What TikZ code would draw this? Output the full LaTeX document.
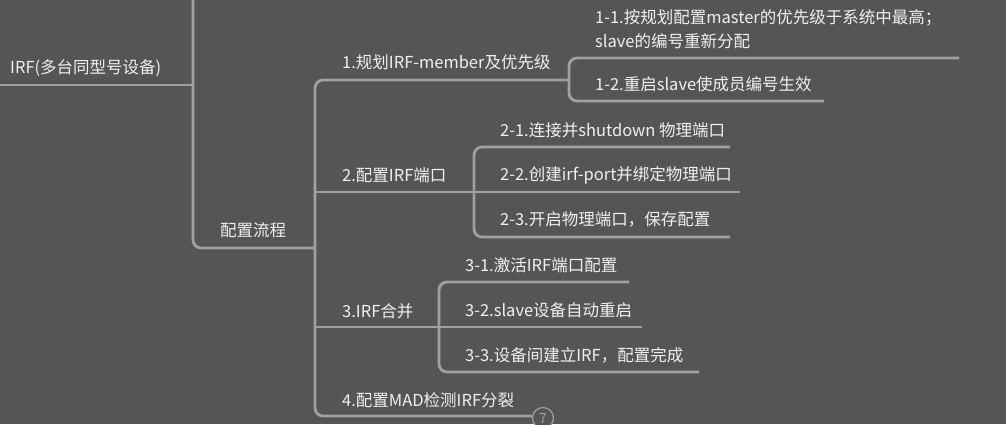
\documentclass[tikz,border=0pt]{standalone}
\usepackage{fontspec}
\setmainfont{Noto Sans CJK SC}
\definecolor{bg}{RGB}{85,86,83}
\definecolor{ln}{RGB}{160,161,158}
\definecolor{tx}{RGB}{240,240,238}
\begin{document}
\begin{tikzpicture}[x=1pt,y=-1pt,
  lbl/.style={anchor=west,inner sep=0pt,text=tx,font=\fontsize{16.5}{24}\selectfont},
  br/.style={draw=ln,line width=2.8pt,rounded corners=8pt}]
\fill[bg] (0,0) rectangle (1006,424);
\useasboundingbox (0,0) rectangle (1006,424);
% texts
\node[lbl] (root) at (10,68) {IRF(多台同型号设备)};
\node[lbl] (cfg) at (220,230) {配置流程};
\node[lbl] (s1) at (342,62) {1.规划IRF-member及优先级};
\node[lbl,align=left] (s11) at (595,29) {1-1.按规划配置master的优先级于系统中最高；\\slave的编号重新分配};
\node[lbl] (s12) at (595,84) {1-2.重启slave使成员编号生效};
\node[lbl] (s2) at (342,175) {2.配置IRF端口};
\node[lbl] (s21) at (500,130) {2-1.连接并shutdown 物理端口};
\node[lbl] (s22) at (500,175) {2-2.创建irf-port并绑定物理端口};
\node[lbl] (s23) at (500,219) {2-3.开启物理端口，保存配置};
\node[lbl] (s3) at (342,311) {3.IRF合并};
\node[lbl] (s31) at (465,265) {3-1.激活IRF端口配置};
\node[lbl] (s32) at (465,310) {3-2.slave设备自动重启};
\node[lbl] (s33) at (465,355) {3-3.设备间建立IRF，配置完成};
\node[lbl] (s4) at (342,400) {4.配置MAD检测IRF分裂};
% junction coordinates
\coordinate (rootL) at (0,85);
\coordinate (j0top) at (193,0);
\coordinate (j0) at (193,85);
\coordinate (cfgR) at (315,248);
\coordinate (s1R) at (569,80);
\coordinate (s1L) at (315,80);
\coordinate (s4L) at (315,416);
\coordinate (s4R) at (532,416);
\coordinate (s2R) at (474,192);
\coordinate (s3R) at (439,327);
% root and level 1
\draw[br] (rootL) -- (j0);
\draw[br] (j0top) -- (193,248) -- (cfgR);
% level 2 spine
\draw[br] (s1R) -- (s1L) -- (s4L) -- (s4R);
\draw[br] (315,192) -- (s2R);
\draw[br] (315,327) -- (s3R);
% sub branch 1
\draw[br] (959,58) -- (569,58) -- (569,101) -- (824,101);
% sub branch 2
\draw[br] (730,147) -- (474,147) -- (474,237) -- (730,237);
\draw[br] (s2R) -- (740,192);
% sub branch 3
\draw[br] (629,282) -- (439,282) -- (439,372) -- (699,372);
\draw[br] (s3R) -- (642,327);
% collapsed count
\node[circle,draw=ln,line width=1.2pt,fill=bg,minimum size=21pt,inner sep=0pt,text=ln,font=\fontsize{14}{14}\selectfont] (cnt) at (543,418) {7};
\end{tikzpicture}
\end{document}
